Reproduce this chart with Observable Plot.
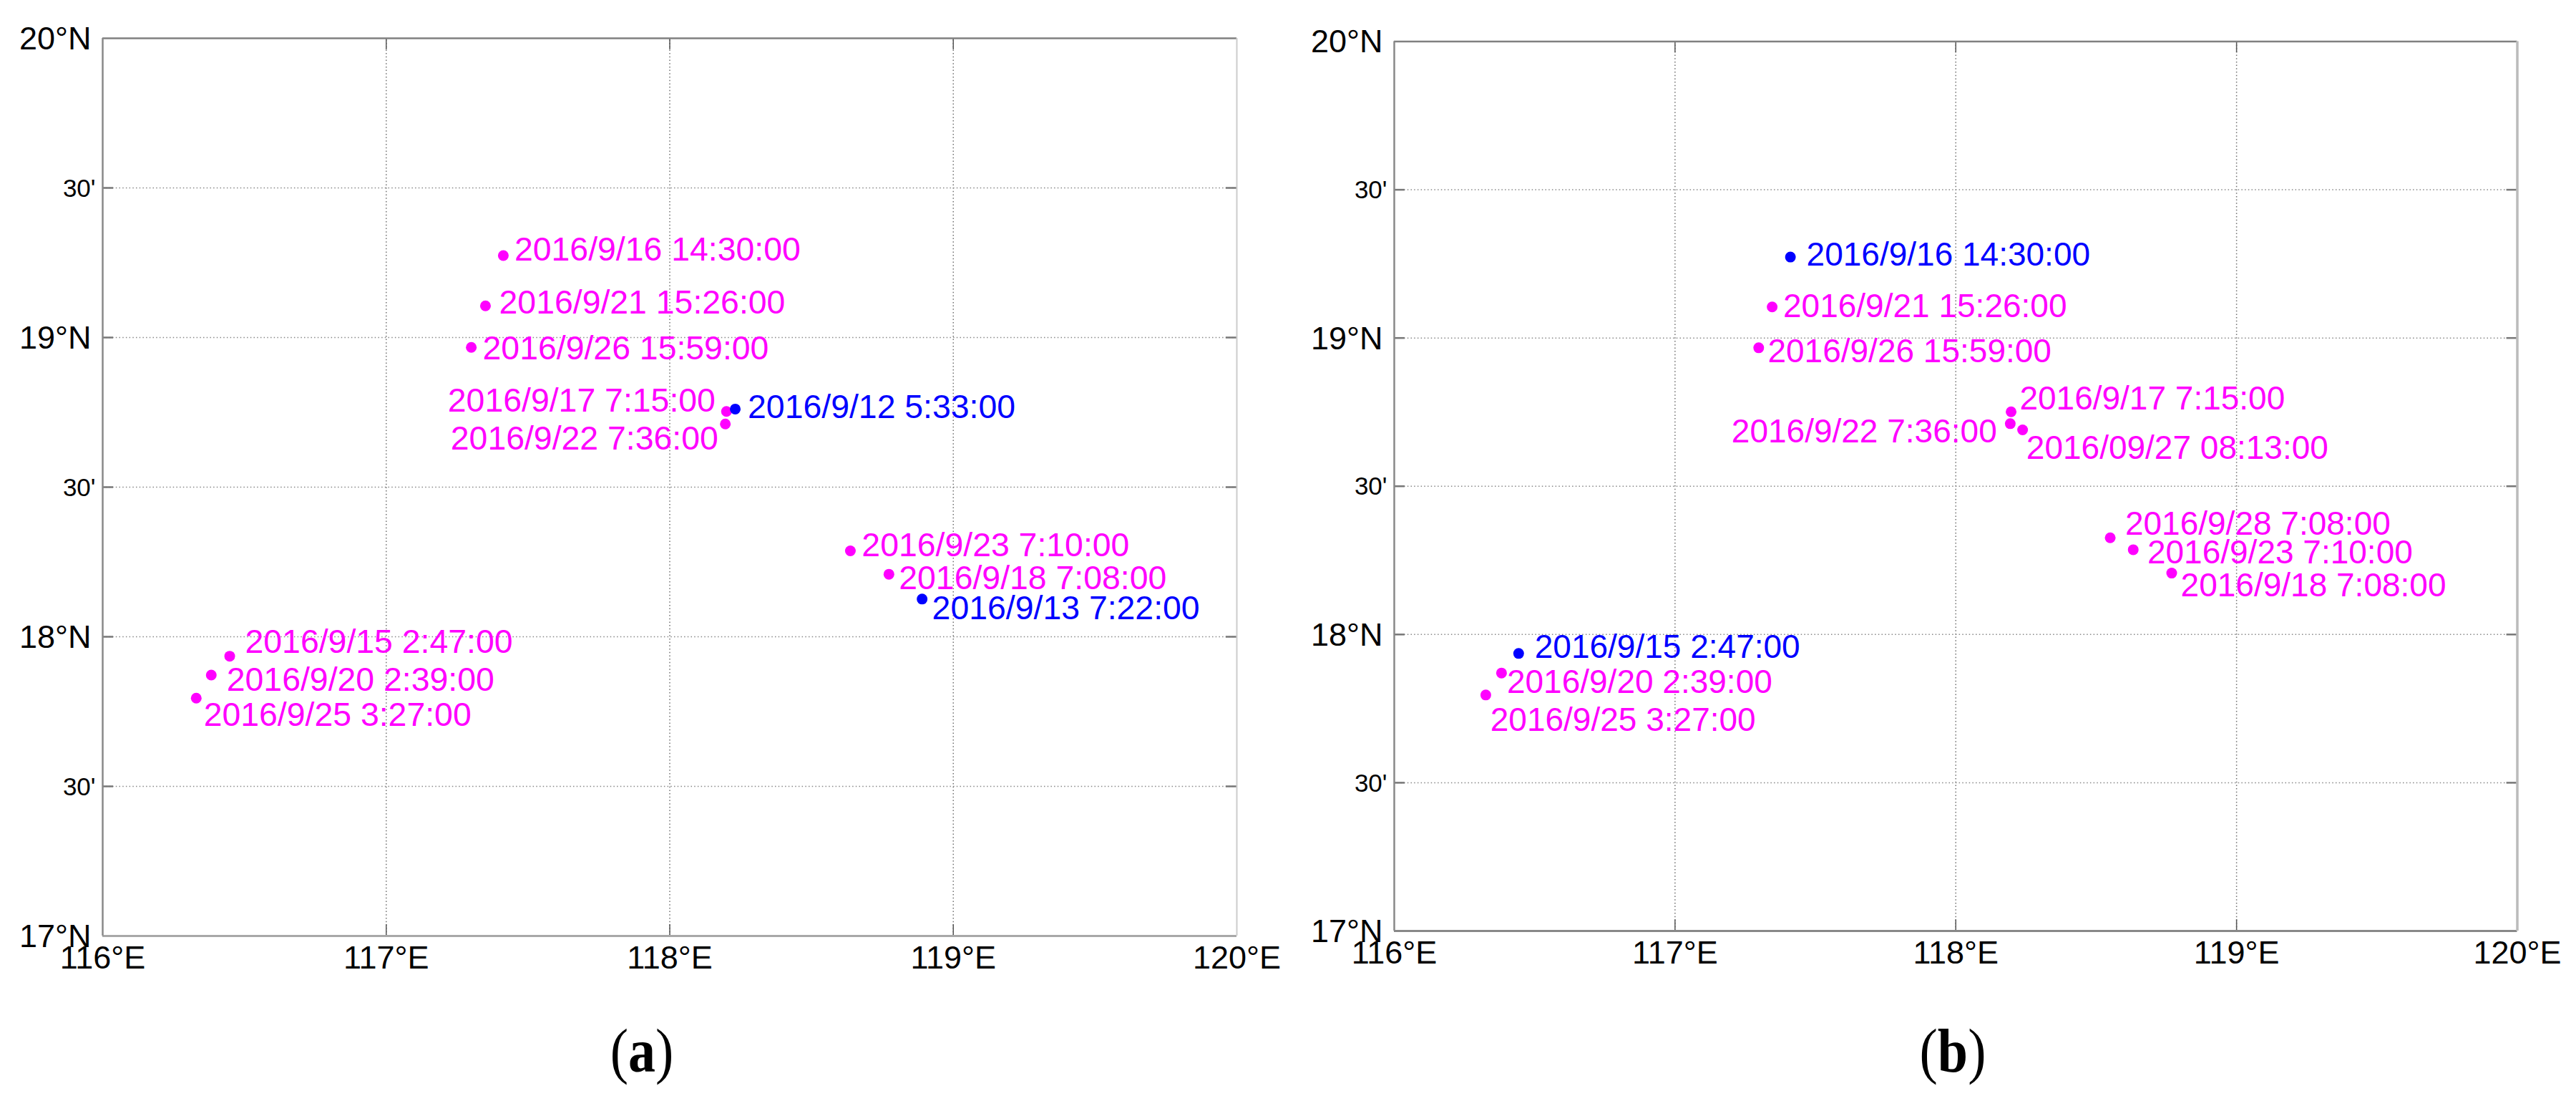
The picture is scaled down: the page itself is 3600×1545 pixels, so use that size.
<!DOCTYPE html>
<html>
<head>
<meta charset="utf-8">
<script src="https://cdn.jsdelivr.net/npm/d3@7"></script>
<script src="https://cdn.jsdelivr.net/npm/@observablehq/plot@0.6"></script>
<style>
html,body{margin:0;padding:0;background:#fff;}
#page{position:relative;width:3600px;height:1545px;overflow:hidden;}
.panel{position:absolute;top:0;}
.cap{position:absolute;font-family:"Liberation Serif",serif;font-size:76px;line-height:1;color:#000;transform-origin:50% 0;transform:translateX(-50%) scaleY(1.15);}
.cap b{font-weight:bold;}
</style>
</head>
<body>
<div id="page"></div>
<script>
const lonTicks = [116, 117, 118, 119, 120];
const lonLabels = ["116°E", "117°E", "118°E", "119°E", "120°E"];
const degTicks = [17, 18, 19, 20];
const degLabels = ["17°N", "18°N", "19°N", "20°N"];
const minTicks = [17.5, 18.5, 19.5];

// Panel (a)
const aTime = ["2016/9/16 14:30:00","2016/9/21 15:26:00","2016/9/26 15:59:00","2016/9/17 7:15:00","2016/9/22 7:36:00","2016/9/12 5:33:00","2016/9/23 7:10:00","2016/9/18 7:08:00","2016/9/13 7:22:00","2016/9/15 2:47:00","2016/9/20 2:39:00","2016/9/25 3:27:00"];
const aPass = ["repeat","repeat","repeat","repeat","repeat","first","repeat","repeat","first","repeat","repeat","repeat"];
const aLon = [117.413,117.350,117.300,118.200,118.196,118.231,118.637,118.773,118.890,116.448,116.383,116.330];
const aLat = [19.274,19.106,18.967,18.753,18.711,18.761,18.287,18.209,18.126,17.935,17.872,17.795];
const aLabelLon = [117.456,117.402,117.344,117.221,117.231,118.279,118.681,118.812,118.929,116.506,116.441,116.360];
const aLabelLat = [19.292,19.116,18.962,18.789,18.660,18.766,18.304,18.194,18.093,17.981,17.856,17.737];

// Panel (b)
const bTime = ["2016/9/16 14:30:00","2016/9/21 15:26:00","2016/9/26 15:59:00","2016/9/17 7:15:00","2016/9/22 7:36:00","2016/09/27 08:13:00","2016/9/28 7:08:00","2016/9/23 7:10:00","2016/9/18 7:08:00","2016/9/15 2:47:00","2016/9/20 2:39:00","2016/9/25 3:27:00"];
const bPass = ["first","repeat","repeat","repeat","repeat","repeat","repeat","repeat","repeat","first","repeat","repeat"];
const bLon = [117.411,117.346,117.298,118.197,118.194,118.238,118.550,118.632,118.769,116.443,116.382,116.326];
const bLat = [19.273,19.105,18.967,18.751,18.711,18.690,18.326,18.286,18.207,17.936,17.870,17.796];
const bLabelLon = [117.472,117.389,117.334,118.231,117.205,118.255,118.607,118.686,118.805,116.504,116.405,116.346];
const bLabelLat = [19.279,19.106,18.955,18.795,18.684,18.629,18.373,18.276,18.164,17.957,17.839,17.711];

const FONT = '"Liberation Sans", Arial, sans-serif';
const table = (time, pass, lon, lat, labelLon, labelLat) =>
  time.map((t, i) => ({time: t, pass: pass[i], lon: lon[i], lat: lat[i], labelLon: labelLon[i], labelLat: labelLat[i]}));

function panel(rows, m, frame) {
  const dottedX = {stroke: "#707070", strokeWidth: 1.5, strokeDasharray: "1.5 3.2"};
  const dottedY = {stroke: "#888", strokeWidth: 1.5, strokeDasharray: "1.5 3.2"};
  const innerLons = lonTicks.slice(1, -1);
  const allLats = [...minTicks, 18, 19];
  return Plot.plot({
    width: 1800, height: 1400,
    marginLeft: m.left, marginRight: m.right, marginTop: m.top, marginBottom: m.bottom,
    style: {fontFamily: FONT, background: "transparent", overflow: "visible"},
    x: {domain: [116, 120], axis: null},
    y: {domain: [17, 20], axis: null},
    color: {domain: ["first", "repeat"], range: ["#0000ff", "#ff00ff"]},
    marks: [
      Plot.ruleX(innerLons, {y1: 17, y2: 20, ...dottedX}),
      Plot.ruleY(allLats, {x1: 116, x2: 120, ...dottedY}),
      Plot.ruleX(innerLons, {y1: 17, y2: 17.038, stroke: "#555", strokeWidth: 1.5}),
      Plot.ruleX(innerLons, {y1: 19.962, y2: 20, stroke: "#555", strokeWidth: 1.5}),
      Plot.ruleY(allLats, {x1: 116, x2: 116.038, stroke: "#777", strokeWidth: 2.5}),
      Plot.ruleY(allLats, {x1: 119.962, x2: 120, stroke: "#777", strokeWidth: 2.5}),
      Plot.ruleY([20], {stroke: frame.top, strokeWidth: 2.5}),
      Plot.ruleY([17], {stroke: frame.bottom, strokeWidth: 3}),
      Plot.ruleX([116], {stroke: frame.left, strokeWidth: 2.5}),
      Plot.ruleX([120], {stroke: frame.right, strokeWidth: frame.rightWidth}),
      Plot.axisX(lonTicks, {tickSize: 0, tickPadding: 14, fontSize: 45, fill: "#000", label: null,
        tickFormat: (d) => lonLabels[lonTicks.indexOf(d)]}),
      Plot.axisY(degTicks, {tickSize: 0, tickPadding: 16, fontSize: 45, fill: "#000", label: null, dy: 1,
        tickFormat: (d) => degLabels[degTicks.indexOf(d)]}),
      Plot.axisY(minTicks, {tickSize: 0, tickPadding: 10, fontSize: 35, fill: "#000", label: null, dy: 1,
        tickFormat: () => "30'"}),
      Plot.dot(rows, {x: "lon", y: "lat", r: 7.5, fill: "pass"}),
      Plot.text(rows, {x: "labelLon", y: "labelLat", text: "time", fill: "pass", fontSize: m.labelSize, dx: -1.5,
        textAnchor: "start", lineAnchor: "middle"})
    ]
  });
}

const page = document.getElementById("page");
const addPanel = (svg, left) => {
  const d = document.createElement("div");
  d.className = "panel";
  d.style.left = left + "px";
  d.appendChild(svg);
  page.appendChild(d);
};
addPanel(panel(table(aTime, aPass, aLon, aLat, aLabelLon, aLabelLat),
  {left: 143, right: 72, top: 53, bottom: 93, labelSize: 46.4},
  {top: "#808080", bottom: "#a8a8a8", left: "#888", right: "#ccc", rightWidth: 2}), 0);
addPanel(panel(table(bTime, bPass, bLon, bLat, bLabelLon, bLabelLat),
  {left: 148, right: 82.5, top: 57.5, bottom: 100, labelSize: 46},
  {top: "#808080", bottom: "#888", left: "#888", right: "#bbb", rightWidth: 3.5}), 1800);

const addCap = (letter, cx) => {
  const c = document.createElement("div");
  c.className = "cap";
  c.style.left = cx + "px";
  c.style.top = "1423px";
  c.append("(");
  const b = document.createElement("b");
  b.textContent = letter;
  c.appendChild(b);
  c.append(")");
  page.appendChild(c);
};
addCap("a", 897);
addCap("b", 2729);
</script>
</body>
</html>
